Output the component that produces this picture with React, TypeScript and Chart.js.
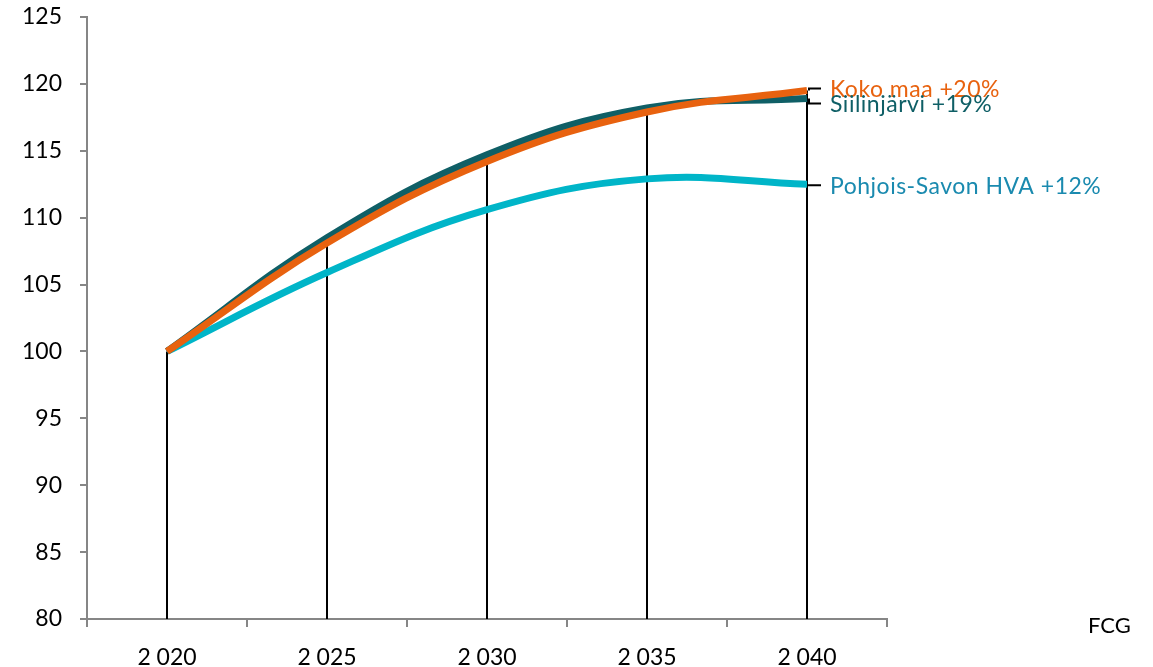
import React, { useEffect, useRef } from "react";
import { Chart, registerables } from "chart.js";

Chart.register(...registerables);

const years = ["2 020", "2 025", "2 030", "2 035", "2 040"];
const siilinjarvi = [100, 108.5, 114.7, 118.2, 118.9];
const kokoMaa = [100, 108.1, 114.2, 117.9, 119.5];
const pohjoisSavo = [100, 105.9, 110.6, 112.9, 112.5];
const seriesNames = ["Koko maa +20%", "Siilinjärvi +19%", "Pohjois-Savon HVA +12%"];
const yTicks = [80, 85, 90, 95, 100, 105, 110, 115, 120, 125];
const sourceText = "FCG";

const ORANGE = "#E8620F";
const TEAL = "#0F5F66";
const CYAN = "#00B5C8";
const FONT = "Lato, 'Open Sans', sans-serif";

const overlayPlugin = {
  id: "overlay",
  beforeDatasetsDraw(chart: any) {
    const ctx = chart.ctx;
    const x = chart.scales.x;
    const y = chart.scales.y;
    ctx.save();
    ctx.strokeStyle = "#000";
    ctx.lineWidth = 2;
    years.forEach((_, i) => {
      const top = Math.max(siilinjarvi[i], kokoMaa[i], pohjoisSavo[i]);
      const px = Math.round(x.getPixelForValue(i));
      ctx.beginPath();
      ctx.moveTo(px, y.getPixelForValue(top));
      ctx.lineTo(px, y.bottom);
      ctx.stroke();
    });
    ctx.restore();
  },
  afterDatasetsDraw(chart: any) {
    const ctx = chart.ctx;
    const x = chart.scales.x;
    const y = chart.scales.y;
    const last = years.length - 1;
    const px = x.getPixelForValue(last);
    const vals = [kokoMaa[last], siilinjarvi[last], pohjoisSavo[last]];
    const colors = [ORANGE, TEAL, "#1A8AAF"];
    const shifts = [-2, 5, 1];
    ctx.save();
    ctx.strokeStyle = "#000";
    ctx.lineWidth = 2;
    vals.forEach((v, k) => {
      const py = y.getPixelForValue(v);
      const ly = py + shifts[k];
      ctx.beginPath();
      ctx.moveTo(px + 2, py);
      ctx.lineTo(px + 2, ly);
      ctx.lineTo(px + 14, ly);
      ctx.stroke();
    });
    ctx.font = `23px ${FONT}`;
    ctx.textBaseline = "middle";
    ctx.textAlign = "left";
    try {
      (ctx as any).letterSpacing = "0.5px";
    } catch (e) {}
    vals.forEach((v, k) => {
      const py = y.getPixelForValue(v) + shifts[k];
      ctx.fillStyle = colors[k];
      ctx.fillText(seriesNames[k], px + 23, py + 1);
    });
    try {
      (ctx as any).letterSpacing = "0px";
    } catch (e) {}
    ctx.fillStyle = "#000";
    ctx.font = `22px ${FONT}`;
    ctx.fillText(sourceText, 1088, 626);
    ctx.restore();
  },
};

export default function App() {
  const ref = useRef<HTMLCanvasElement>(null);
  useEffect(() => {
    if (!ref.current) return;
    const chart = new Chart(ref.current, {
      type: "line",
      data: {
        labels: years,
        datasets: [
          {
            label: "Koko maa",
            data: kokoMaa,
            borderColor: ORANGE,
            borderWidth: 7,
            pointRadius: 0,
            tension: 0.4,
            order: 0,
          },
          {
            label: "Siilinjärvi",
            data: siilinjarvi,
            borderColor: TEAL,
            borderWidth: 7,
            pointRadius: 0,
            tension: 0.4,
            order: 1,
          },
          {
            label: "Pohjois-Savon HVA",
            data: pohjoisSavo,
            borderColor: CYAN,
            borderWidth: 7,
            pointRadius: 0,
            tension: 0.4,
            order: 2,
          },
        ],
      },
      options: {
        animation: false,
        responsive: false,
        layout: { padding: { top: 17, right: 266, left: 0, bottom: 0 } },
        plugins: { legend: { display: false }, tooltip: { enabled: false } },
        scales: {
          x: {
            offset: true,
            grid: {
              offset: true,
              drawOnChartArea: false,
              drawTicks: true,
              tickLength: 8,
              color: "#868686",
              lineWidth: 2,
            },
            border: { color: "#868686", width: 2 },
            ticks: {
              color: "#000",
              font: { family: FONT, size: 23 },
              padding: 17,
              maxRotation: 0,
            },
            afterFit(s: any) {
              s.height = 48;
              s.paddingLeft = 0;
              s.paddingRight = 0;
            },
          },
          y: {
            min: 80,
            max: 125,
            afterBuildTicks(s: any) {
              s.ticks = yTicks.map((v) => ({ value: v }));
            },
            grid: {
              drawOnChartArea: false,
              drawTicks: true,
              tickLength: 7,
              color: "#868686",
              lineWidth: 2,
            },
            border: { color: "#868686", width: 2 },
            ticks: {
              color: "#000",
              font: { family: FONT, size: 23 },
              padding: 18,
            },
            afterFit(s: any) {
              s.width = 87;
              s.paddingTop = 0;
              s.paddingBottom = 0;
            },
          },
        },
      },
      plugins: [overlayPlugin],
    });
    return () => chart.destroy();
  }, []);
  return (
    <div style={{ position: "fixed", left: 0, top: 0, width: 1153, height: 667, background: "#fff" }}>
      <canvas ref={ref} width={1153} height={667} style={{ display: "block" }} />
    </div>
  );
}
